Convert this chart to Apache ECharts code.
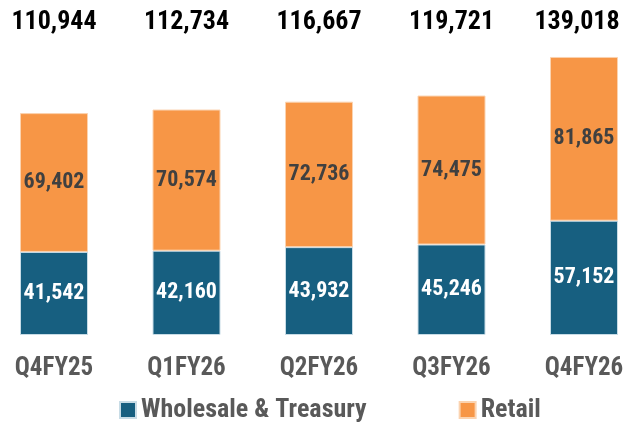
<!DOCTYPE html>
<html>
<head>
<meta charset="utf-8">
<script src="https://cdn.jsdelivr.net/npm/echarts@6/dist/echarts.min.js"></script>
<style>
    html, body { margin: 0; padding: 0; background: #fff; }
    #chart { width: 625px; height: 423px; }
</style>
</head>
<body>
<div id="chart"></div>
<script>
    var quarters = ['Q4FY25', 'Q1FY26', 'Q2FY26', 'Q3FY26', 'Q4FY26'];
    var wholesale = [41542, 42160, 43932, 45246, 57152];
    var retail = [69402, 70574, 72736, 74475, 81865];
    var totals = [110944, 112734, 116667, 119721, 139018];

    var font = '"Roboto Condensed", "Liberation Sans Narrow", "DejaVu Sans Condensed", Roboto, sans-serif';
    var fmt = function (v) { return Number(v).toLocaleString('en-US'); };

    var chart = echarts.init(document.getElementById('chart'));
    chart.setOption({
        animation: false,
        color: ['#175F80', '#F79646'],
        textStyle: { fontFamily: font },
        // bars sit on the ticks (boundaryGap false), first/last at the grid edges
        grid: { left: 54, right: 41, top: 35, bottom: 88, outerBoundsMode: 'none', containLabel: false },
        legend: {
            top: 392,
            left: 114,
            itemWidth: 16,
            itemHeight: 16,
            itemGap: 92,
            icon: 'rect',
            textStyle: { fontSize: 26, fontWeight: 'bold', color: '#595959', fontFamily: font },
            data: ['Wholesale & Treasury', 'Retail']
        },
        xAxis: [
            {
                type: 'category',
                boundaryGap: false,
                data: quarters,
                axisLine: { show: false },
                axisTick: { show: false },
                axisLabel: { interval: 0, fontSize: 25, fontWeight: 'bold', color: '#595959', margin: 21, fontFamily: font }
            },
            {
                // totals shown as a top axis row
                type: 'category',
                position: 'top',
                boundaryGap: false,
                data: totals.map(fmt),
                axisLine: { show: false },
                axisTick: { show: false },
                axisLabel: {
                    interval: 0,
                    fontSize: 26, fontWeight: 'bold', color: '#000', margin: 0, fontFamily: font,
                    // last total sits a little left of its bar
                    formatter: function (v, i) { return i === totals.length - 1 ? '{last|' + v + '}' : v; },
                    rich: {
                        last: { fontSize: 26, fontWeight: 'bold', color: '#000', fontFamily: font, padding: [0, 14, 0, 0] }
                    }
                }
            }
        ],
        yAxis: {
            type: 'value',
            min: 0,
            max: 150000,
            show: false,
            splitLine: { show: false }
        },
        series: [
            {
                name: 'Wholesale & Treasury',
                type: 'bar',
                stack: 'total',
                barWidth: 68,
                data: wholesale,
                itemStyle: { borderColor: '#C8DCE6', borderWidth: 1 },
                label: {
                    show: true,
                    position: 'inside',
                    color: '#fff',
                    fontSize: 22,
                    fontWeight: 'bold',
                    fontFamily: font,
                    formatter: function (p) { return fmt(p.value); }
                }
            },
            {
                name: 'Retail',
                type: 'bar',
                stack: 'total',
                barWidth: 68,
                data: retail,
                itemStyle: { borderColor: '#FBD3B0', borderWidth: 1 },
                label: {
                    show: true,
                    position: 'inside',
                    color: '#404040',
                    fontSize: 22,
                    fontWeight: 'bold',
                    fontFamily: font,
                    formatter: function (p) { return fmt(p.value); }
                }
            }
        ]
    });
</script>
</body>
</html>
